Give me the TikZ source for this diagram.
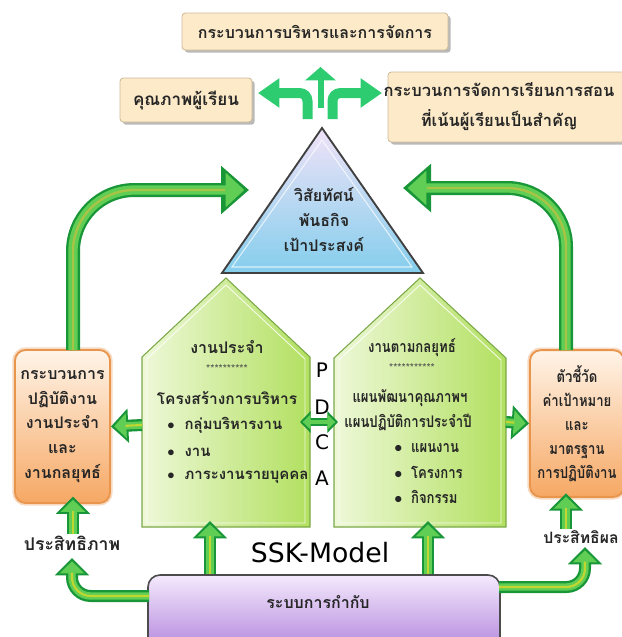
\documentclass[tikz,border=0pt]{standalone}
\usepackage{fontspec}
\usepackage{tikz}
\usetikzlibrary{arrows.meta,shadows}
\newfontfamily\thaifont[Script=Thai]{Loma}
\newfontfamily\thainarrow[Script=Thai,FakeStretch=0.82]{Loma}
\newfontfamily\modelfont{DejaVu Sans}

\definecolor{signgreen}{RGB}{46,204,113}
\definecolor{arrowdark}{RGB}{24,150,56}
\definecolor{arrowmid}{RGB}{96,206,84}
\definecolor{arrowcore}{RGB}{168,196,70}
\definecolor{boxbeige}{RGB}{252,234,200}
\definecolor{boxedge}{RGB}{205,185,150}
\definecolor{orangetop}{RGB}{255,244,232}
\definecolor{orangebot}{RGB}{246,168,100}
\definecolor{orangeedge}{RGB}{232,150,78}
\definecolor{housepale}{RGB}{238,248,216}
\definecolor{housegreen}{RGB}{178,224,96}
\definecolor{houseedge}{RGB}{122,168,72}
\definecolor{visiontop}{RGB}{240,226,248}
\definecolor{visionbot}{RGB}{132,206,236}
\definecolor{ctrltop}{RGB}{244,234,252}
\definecolor{ctrlbot}{RGB}{180,136,222}

\tikzset{
  thai/.style={font=\thaifont\bfseries\fontsize{12}{18.5}\selectfont, text=black!85, inner sep=0.75pt, align=center},
  thaithin/.style={thai, font=\thainarrow\bfseries\fontsize{12}{18}\selectfont},
  stars/.style={font=\thaifont\fontsize{8}{9}\selectfont, text=black!70, inner sep=0.75pt},
  pdca/.style={font=\modelfont\fontsize{15}{18}\selectfont, inner sep=0.75pt},
  beigebox/.style={draw=boxedge, fill=boxbeige, rounded corners=2.5pt, line width=0.6pt, drop shadow={shadow xshift=2pt, shadow yshift=-2pt, fill=black!55}},
  orangebox/.style={draw=orangeedge, line width=1.4pt, rounded corners=8pt, top color=orangetop, bottom color=orangebot, preaction={draw=orangeedge!35, line width=4pt}},
  house/.style={draw=houseedge, line width=0.8pt, left color=housepale, right color=housegreen},
  bigarrow/.style={draw=arrowmid, line width=7pt, -{Triangle[width=25pt,length=14pt]}, shorten >=3.5pt,
    preaction={draw=arrowdark, line width=10.5pt, -{Triangle[width=35pt,length=21pt]}, shorten >=0pt},
    postaction={draw=arrowcore, line width=1.8pt, -, shorten >=18pt}},
  smallarrow/.style={draw=arrowmid, line width=5.5pt, -{Triangle[width=18pt,length=9pt]}, shorten >=2.5pt,
    preaction={draw=arrowdark, line width=9pt, -{Triangle[width=25pt,length=13pt]}, shorten >=0pt},
    postaction={draw=arrowcore!70!yellow, line width=1.6pt, -, shorten >=11pt}},
  dblarrow/.style={draw=arrowmid, line width=3.5pt, {Triangle[width=11pt,length=6pt]}-{Triangle[width=11pt,length=6pt]}, shorten >=2pt, shorten <=2pt,
    preaction={draw=arrowdark, line width=6pt, {Triangle[width=16pt,length=8pt]}-{Triangle[width=16pt,length=8pt]}, shorten >=0pt, shorten <=0pt}},
  signarrow/.style={draw=signgreen, line width=7.5pt, -{Triangle[width=21pt,length=16pt]}},
}

\begin{document}
\begin{tikzpicture}[x=0.75pt,y=0.75pt,yscale=-1,xscale=1]
\useasboundingbox (0,0) rectangle (622,637);

%Boxes at the top
\draw (315,31.5) node (mgmt) [beigebox, thai, minimum width=199.5pt, minimum height=27.75pt] {กระบวนการบริหารและการจัดการ};
\draw (186,100) node (quality) [beigebox, thai, font=\thaifont\bfseries\fontsize{12.8}{15}\selectfont, minimum width=99pt, minimum height=33pt] {คุณภาพผู้เรียน};
\draw (508,107) node (teach) [beigebox, minimum width=180pt, minimum height=52.5pt] {};
% Text Node
\draw (499,107) node (teachtext) [thai, font=\thaifont\bfseries\fontsize{12.4}{22.5}\selectfont] {กระบวนการจัดการเรียนการสอน\\ที่เน้นผู้เรียนเป็นสำคัญ};

%Three way sign
\draw [signarrow, rounded corners=6pt] (307.5,119) |- (258,93);
\draw [signarrow, rounded corners=6pt] (332.5,119) |- (382,93);
\draw [signarrow, line width=4.5pt, -{Triangle[width=22.5pt,length=10pt]}] (320.5,108) -- (320.5,67);

%Shape: Triangle
\draw [draw=black!75, line width=1.4pt, top color=visiontop, bottom color=visionbot] (322,128) -- (423,273) -- (222,273) -- cycle;
\draw [draw=white, line width=0.8pt, opacity=0.7] (322,140) -- (412,267) -- (232,267) -- cycle;
% Text Node
\draw (324,220) node (vision) [thai, font=\thaifont\bfseries\fontsize{12}{18.75}\selectfont] {วิสัยทัศน์\\พันธกิจ\\เป้าประสงค์};

%Shape: Houses
\draw [house] (142,527) -- (142,357) -- (226,278) -- (310,357) -- (310,527) -- cycle;
\draw [draw=white, line width=0.7pt, opacity=0.8] (147,523) -- (147,359) -- (226,285) -- (305,359) -- (305,523) -- cycle;
\draw [house] (334,527) -- (334,358) -- (420,278) -- (506,358) -- (506,527) -- cycle;
\draw [draw=white, line width=0.7pt, opacity=0.8] (339,523) -- (339,360) -- (420,285) -- (501,360) -- (501,523) -- cycle;

% Text Node
\draw (227,347) node (routine) [thai] {งานประจำ};
\draw (227,369) node (routinestars) [stars] {**********};
\draw (227,398) node (structure) [thai, font=\thaifont\bfseries\fontsize{11.6}{14}\selectfont] {โครงสร้างการบริหาร};
\draw (166,425) node (groupwork) [thai, anchor=west, font=\thaifont\bfseries\fontsize{11.2}{14}\selectfont] {$\bullet$\ \ กลุ่มบริหารงาน};
\draw (166,452) node (work) [thai, anchor=west, font=\thaifont\bfseries\fontsize{11.2}{14}\selectfont] {$\bullet$\ \ งาน};
\draw (166,477) node (workload) [thai, anchor=west, font=\thaifont\bfseries\fontsize{11.2}{14}\selectfont] {$\bullet$\ \ ภาระงานรายบุคคล};
% Text Node
\draw (412,348) node (strategy) [thaithin] {งานตามกลยุทธ์};
\draw (412,368) node (strategystars) [stars] {***********};
\draw (410,398) node (devplan) [thaithin] {แผนพัฒนาคุณภาพฯ};
\draw (408,422) node (yearplan) [thaithin] {แผนปฏิบัติการประจำปี};
\draw (393,448) node (plan) [thaithin, anchor=west] {$\bullet$\ \ แผนงาน};
\draw (393,472) node (project) [thaithin, anchor=west] {$\bullet$\ \ โครงการ};
\draw (393,497) node (activity) [thaithin, anchor=west] {$\bullet$\ \ กิจกรรม};

% PDCA
\draw (322,370) node (plet) [pdca] {P};
\draw (322,407) node (dlet) [pdca] {D};
\draw (322,442) node (clet) [pdca] {C};
\draw (322,478) node (alet) [pdca] {A};

%Side boxes
\draw (62.5,426.5) node (lbox) [orangebox, thai, minimum width=71.25pt, minimum height=114.75pt] {กระบวนการ\\ปฏิบัติงาน\\งานประจำ\\และ\\งานกลยุทธ์};
\draw (577,423.5) node (rbox) [orangebox, thaithin, minimum width=70.5pt, minimum height=110pt] {ตัวชี้วัด\\ค่าเป้าหมาย\\และ\\มาตรฐาน\\การปฏิบัติงาน};

% Text Node
\draw (72,543) node (effic) [thai, font=\thaifont\bfseries\fontsize{13.2}{15}\selectfont] {ประสิทธิภาพ};
\draw (581,537) node (effect) [thai, font=\thaifont\bfseries\fontsize{11.8}{15}\selectfont] {ประสิทธิผล};
\draw (320,553) node (model) [font=\modelfont\fontsize{20}{24}\selectfont] {SSK-Model};

%Bottom box
\draw (324,612) node (ctrl) [draw=black!70, line width=1.2pt, rounded corners=9pt, top color=ctrltop, bottom color=ctrlbot, minimum width=264pt, minimum height=55.5pt] {};
\draw (318,602) node (ctrltext) [thai] {ระบบการกำกับ};

% Coordinates
\coordinate (lstem) at (73,350);
\coordinate (ltip) at (249,190);
\coordinate (rstem) at (566,350);
\coordinate (rtip) at (403,188);
\coordinate (lhouse) at (210,521);
\coordinate (rhouse) at (428,521);
\coordinate (lside) at (142,425);
\coordinate (rside) at (506,422);
\coordinate (pdl) at (300,422);
\coordinate (pdr) at (338,422);
\coordinate (lfoot) at (149,596);
\coordinate (lfoottip) at (72,558);
\coordinate (rfoot) at (499,587);
\coordinate (rfoottip) at (585,547);

%Arrows
\draw [bigarrow, rounded corners=46pt] (lstem) |- (ltip);
\draw [bigarrow, rounded corners=44pt] (rstem) |- (rtip);
\draw [smallarrow] (ctrl.north -| lhouse) -- (lhouse);
\draw [smallarrow] (ctrl.north -| rhouse) -- (rhouse);
\draw [smallarrow] (lside) -- (lbox.east);
\draw [smallarrow] (rside) -- (rbox.west);
\draw [dblarrow] (pdl) -- (pdr);
\draw [smallarrow] (effic.north -| lstem) -- ++(0,-38);
\draw [smallarrow] (effect.north -| rstem) -- ++(0,-36);
\draw [smallarrow, rounded corners=14pt] (lfoot) -| (lfoottip);
\draw [smallarrow, rounded corners=14pt] (rfoot) -| (rfoottip);

\end{tikzpicture}
\end{document}
